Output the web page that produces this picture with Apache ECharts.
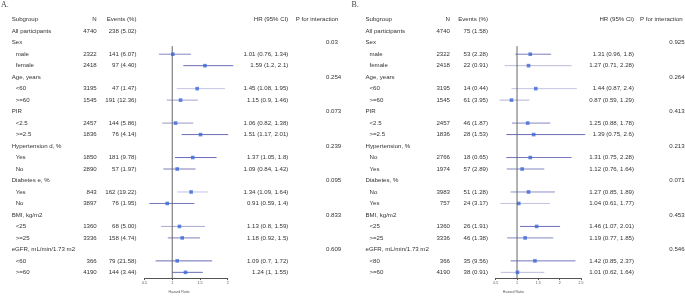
<!DOCTYPE html>
<html>
<head>
<meta charset="utf-8">
<script src="https://cdn.jsdelivr.net/npm/echarts@6/dist/echarts.min.js"></script>
<style>
  html, body { margin: 0; padding: 0; background: #fff; }
  #main { width: 685px; height: 299px; }
</style>
</head>
<body>
<div id="main"></div>
<script>
// ---- panel A data ----
const subgroupA = ['All participants', 'Sex', 'male', 'female', 'Age, years', '<60', '>=60', 'PIR', '<2.5', '>=2.5',
  'Hypertension d, %', 'Yes', 'No', 'Diabetes e, %', 'Yes', 'No', 'BMI, kg/m2', '<25', '>=25',
  'eGFR, mL/min/1.73 m2', '<60', '>=60'];
const nA = [4740, null, 2322, 2418, null, 3195, 1545, null, 2457, 1836, null, 1850, 2890, null, 843, 3897, null, 1360, 3336, null, 366, 4190];
const eventsA = ['238 (5.02)', '', '141 (6.07)', '97 (4.40)', '', '47 (1.47)', '191 (12.36)', '', '144 (5.86)', '76 (4.14)',
  '', '181 (9.78)', '57 (1.97)', '', '162 (19.22)', '76 (1.95)', '', '68 (5.00)', '158 (4.74)', '', '79 (21.58)', '144 (3.44)'];
const hrA   = [null, null, 1.01, 1.59, null, 1.45, 1.15, null, 1.06, 1.51, null, 1.37, 1.09, null, 1.34, 0.91, null, 1.13, 1.18, null, 1.09, 1.24];
const lowA  = [null, null, 0.76, 1.2,  null, 1.08, 0.9,  null, 0.82, 1.17, null, 1.05, 0.84, null, 1.09, 0.59, null, 0.8,  0.92, null, 0.7,  1];
const highA = [null, null, 1.34, 2.1,  null, 1.95, 1.46, null, 1.38, 2.01, null, 1.8,  1.42, null, 1.64, 1.4,  null, 1.59, 1.5,  null, 1.72, 1.55];
const pA = ['', '0.03', '', '', '0.254', '', '', '0.073', '', '', '0.239', '', '', '0.095', '', '', '0.833', '', '', '0.609', '', ''];

// ---- panel B data ----
const subgroupB = ['All participants', 'Sex', 'male', 'female', 'Age, years', '<60', '>=60', 'PIR', '<2.5', '>=2.5',
  'Hypertension, %', 'No', 'Yes', 'Diabetes, %', 'No', 'Yes', 'BMI, kg/m2', '<25', '>=25',
  'eGFR, mL/min/1.73 m2', '<80', '>=60'];
const nB = [4740, null, 2322, 2418, null, 3195, 1545, null, 2457, 1836, null, 2766, 1974, null, 3983, 757, null, 1360, 3336, null, 366, 4190];
const eventsB = ['75 (1.58)', '', '53 (2.28)', '22 (0.91)', '', '14 (0.44)', '61 (3.95)', '', '46 (1.87)', '28 (1.53)',
  '', '18 (0.65)', '57 (2.89)', '', '51 (1.28)', '24 (3.17)', '', '26 (1.91)', '46 (1.38)', '', '35 (9.56)', '38 (0.91)'];
const hrB   = [null, null, 1.31, 1.27, null, 1.44, 0.87, null, 1.25, 1.39, null, 1.31, 1.12, null, 1.27, 1.04, null, 1.46, 1.19, null, 1.42, 1.01];
const lowB  = [null, null, 0.96, 0.71, null, 0.87, 0.59, null, 0.88, 0.75, null, 0.75, 0.76, null, 0.85, 0.61, null, 1.07, 0.77, null, 0.85, 0.62];
const highB = [null, null, 1.8,  2.28, null, 2.4,  1.29, null, 1.78, 2.6,  null, 2.28, 1.64, null, 1.89, 1.77, null, 2.01, 1.85, null, 2.37, 1.64];
const pB = ['', '0.925', '', '', '0.264', '', '', '0.413', '', '', '0.213', '', '', '0.071', '', '', '0.453', '', '', '0.546', '', ''];

const axisRangeA = [0.5, 2];
const axisRangeB = [0.5, 2.5];

// line shade (opacity) of each CI bar
const shadeA = [0, 0, 0.7, 0.85, 0, 0.35, 0.55, 0, 0.6, 0.85, 0, 0.85, 0.75, 0, 0.35, 0.8, 0, 0.5, 0.75, 0, 0.85, 0.85];
const shadeB = [0, 0, 0.75, 0.4, 0, 0.35, 0.45, 0, 0.7, 0.85, 0, 0.8, 0.7, 0, 0.65, 0.35, 0, 0.85, 0.7, 0, 0.8, 0.4];

const FONT = '"Liberation Sans", Arial, sans-serif';
const TXT = '#333';
const FS = 6.1;

// column x positions (px)
const colsA = { sub: 11.7, indent: 15.7, n: 96.7, ev: 136.5, hr: 288.3, pHead: 295.7, p: 326 };
const colsB = { sub: 365.5, indent: 369.5, n: 450, ev: 488, hr: 634, pHead: 640, p: 669.3 };

function tableSeries(k, cols, sub, n, ev, hr, lo, hi, p) {
  const data = [[1, -1]];
  for (let i = 0; i < sub.length; i++) data.push([1, i]);
  return {
    type: 'custom',
    xAxisIndex: k, yAxisIndex: k,
    silent: true,
    data: data,
    renderItem: function (params, api) {
      const i = api.value(1);
      const y = api.coord([1, i])[1];
      const t = (x, text, align) => ({
        type: 'text', x: x, y: y,
        style: { text: text, fill: TXT, fontSize: FS, fontFamily: FONT, align: align, verticalAlign: 'middle' }
      });
      if (i < 0) {
        return { type: 'group', children: [
          t(cols.sub, 'Subgroup', 'left'), t(cols.n, 'N', 'right'), t(cols.ev, 'Events (%)', 'right'),
          t(cols.hr, 'HR (95% CI)', 'right'), t(cols.pHead, 'P for interaction', 'left')
        ] };
      }
      const kids = [t(hr[i] != null ? cols.indent : cols.sub, sub[i], 'left')];
      if (n[i] != null) kids.push(t(cols.n, String(n[i]), 'right'));
      if (ev[i]) kids.push(t(cols.ev, ev[i], 'right'));
      if (hr[i] != null) kids.push(t(cols.hr, hr[i] + ' (' + lo[i] + ', ' + hi[i] + ')', 'right'));
      if (p[i]) kids.push(t(cols.p, p[i], 'left'));
      return { type: 'group', children: kids };
    },
    z: 5
  };
}

function ciSeries(k, hr, lo, hi, shade) {
  const data = [];
  hr.forEach((v, i) => { if (v != null) data.push([lo[i], hi[i], i, shade[i]]); });
  return {
    type: 'custom',
    xAxisIndex: k, yAxisIndex: k,
    silent: true,
    encode: { x: [0, 1], y: 2 },
    data: data,
    renderItem: function (params, api) {
      const a = api.coord([api.value(0), api.value(2)]);
      const b = api.coord([api.value(1), api.value(2)]);
      return {
        type: 'line',
        shape: { x1: a[0], y1: a[1], x2: b[0], y2: b[1] },
        style: { stroke: 'rgba(80,84,170,' + api.value(3) + ')', lineWidth: 1 }
      };
    },
    z: 3
  };
}

function pointSeries(k, hr) {
  const data = [];
  hr.forEach((v, i) => { if (v != null) data.push([v, i]); });
  return {
    type: 'scatter', xAxisIndex: k, yAxisIndex: k, silent: true,
    symbol: 'rect', symbolSize: 3.6,
    itemStyle: { color: '#3b66d8' },
    data: data, z: 6
  };
}

function refLine(k) {
  return {
    type: 'line', xAxisIndex: k, yAxisIndex: k, silent: true,
    symbol: 'none',
    lineStyle: { color: '#666', width: 1 },
    data: [[1, 1.3], [1, 21.5]], z: 4
  };
}

function xAxis(k, range, namePad) {
  return {
    type: 'value', gridIndex: k, min: range[0], max: range[1], interval: 0.5,
    name: 'Hazard Ratio', nameLocation: 'middle', nameGap: 9,
    nameTextStyle: { fontSize: 3.6, color: '#555', fontFamily: FONT, padding: namePad },
    axisLine: { show: true, onZero: false, lineStyle: { color: '#555', width: 1 } },
    axisTick: { show: true, length: 2, lineStyle: { color: '#555' } },
    axisLabel: { fontSize: 3.6, color: '#555', margin: 3, fontFamily: FONT },
    splitLine: { show: false }
  };
}

function yAxis(k) {
  return {
    type: 'value', gridIndex: k, min: -1.5, max: 21.5, inverse: true,
    show: false, splitLine: { show: false }
  };
}

const chart = echarts.init(document.getElementById('main'));
chart.setOption({
  animation: false,
  backgroundColor: '#fff',
  grid: [
    { left: 144.5, width: 83.2, top: 14, height: 272 },
    { left: 495.7, width: 85.3, top: 14, height: 272 }
  ],
  xAxis: [xAxis(0, axisRangeA, [0, 14, 0, 0]), xAxis(1, axisRangeB, [0, 50, 0, 0])],
  yAxis: [yAxis(0), yAxis(1)],
  graphic: [
    { type: 'text', left: 1, top: 1, style: { text: 'A.', fontSize: 8, fontFamily: '"Liberation Serif", serif', fill: '#444' } },
    { type: 'text', left: 351.5, top: 1, style: { text: 'B.', fontSize: 8, fontFamily: '"Liberation Serif", serif', fill: '#444' } }
  ],
  series: [
    tableSeries(0, colsA, subgroupA, nA, eventsA, hrA, lowA, highA, pA),
    refLine(0),
    ciSeries(0, hrA, lowA, highA, shadeA),
    pointSeries(0, hrA),
    tableSeries(1, colsB, subgroupB, nB, eventsB, hrB, lowB, highB, pB),
    refLine(1),
    ciSeries(1, hrB, lowB, highB, shadeB),
    pointSeries(1, hrB)
  ]
});
</script>
</body>
</html>
